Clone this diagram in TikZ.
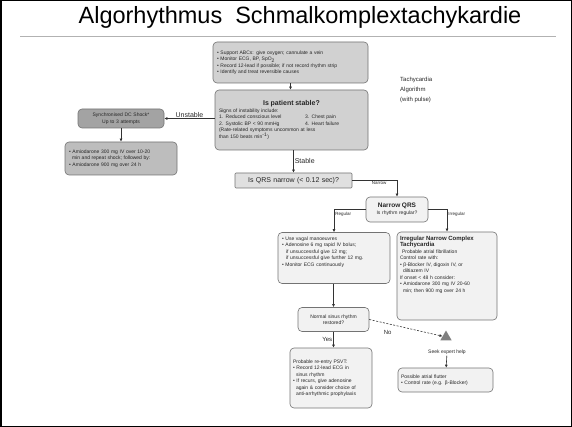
\documentclass[tikz,border=0pt]{standalone}
\usepackage{fontspec}
\setmainfont{Liberation Sans}
\usetikzlibrary{arrows.meta}
\usetikzlibrary{shapes.geometric}
\usetikzlibrary{positioning}
\definecolor{boxdark}{gray}{0.64}
\definecolor{boxmid}{gray}{0.74}
\definecolor{boxgrey}{gray}{0.82}
\definecolor{boxpale}{gray}{0.88}
\definecolor{boxlight}{gray}{0.95}
\definecolor{boxline}{gray}{0.45}

\begin{document}
\begin{tikzpicture}[x=1pt, y=-1pt,
	box/.style={draw=boxline, line width=0.6pt, rounded corners=4pt, inner sep=0pt, align=center, text=black!85, font=\fontsize{5}{6.5}\selectfont},
	lbl/.style={font=\fontsize{6}{7}\selectfont, inner sep=1pt, text=black!85},
	arr/.style={-{Latex[length=3pt,width=3pt]}, line width=0.6pt, black!80}]
				\useasboundingbox (0,0) rectangle (572,427);
				\draw[line width=1.5pt] (0.75,0.75) rectangle (571.25,426.25);
				\node[font=\fontsize{23.5}{26}\selectfont] (title) at (300,17) {Algorhythmus\ \ Schmalkomplextachykardie};
				\draw[gray!60, line width=0.8pt] (20,36) -- (556,36);
				
				\node[box, fill=boxgrey, minimum width=155, minimum height=41, text width=147, align=left] (support) at (290.5,62.5) {• Support ABCs: give oxygen; cannulate a vein\\ • Monitor ECG, BP, SpO\textsubscript{2}\\ • Record 12-lead if possible; if not record rhythm strip\\ • Identify and treat reversible causes};
				\node[font=\fontsize{6}{10}\selectfont, align=left, anchor=north west, inner sep=0pt, text=black!85] (tachy) at (400,77) {Tachycardia\\ Algorithm\\ (with pulse)};
				\node[box, fill=boxgrey, minimum width=153, minimum height=60, text width=145, align=left] (stable) at (291.5,120) {\makebox[145pt]{\fontsize{7}{9}\selectfont\bfseries Is patient stable?}\\ Signs of instability include:\\ \begin{tabular}{@{}p{86pt}@{}l@{}}1. Reduced conscious level & 3. Chest pain\\ 2. Systolic BP < 90 mmHg & 4. Heart failure\end{tabular}\\ (Rate-related symptoms uncommon at less\\ than 150 beats min\textsuperscript{-1})};
				
				\node[box, fill=boxdark, minimum width=86, minimum height=19, text width=82] (shock) at (121,118.5) {Synchronised DC Shock*\\ Up to 3 attempts};
				\node[box, fill=boxmid, minimum width=112, minimum height=33, text width=104, align=left] (amio) at (121,158.5) {• Amiodarone 300 mg IV over 10-20\\ \hspace*{3pt}min and repeat shock; followed by:\\ • Amiodarone 900 mg over 24 h};
				
				\node[box, fill=boxpale, rounded corners=1pt, minimum width=117, minimum height=15, text width=113, font=\fontsize{7}{8}\selectfont] (qrs) at (293.5,180.5) {Is QRS narrow (< 0.12 sec)?};
				\node[box, fill=boxlight, minimum width=62, minimum height=25, text width=60] (narrow) at (397,209.5) {{\fontsize{6.5}{8}\selectfont\bfseries Narrow QRS}\\ Is rhythm regular?};
				
				\node[box, fill=boxlight, minimum width=112, minimum height=51, text width=104, align=left] (vagal) at (334,258) {\parbox[c][43pt][t]{104pt}{\raggedright • Use vagal manoeuvres\\ • Adenosine 6 mg rapid IV bolus;\\ \hspace*{4pt}if unsuccessful give 12 mg;\\ \hspace*{4pt}if unsuccessful give further 12 mg.\\ • Monitor ECG continuously}};
				\node[box, fill=boxlight, minimum width=100, minimum height=88, text width=94] (irreg) at (447,276) {\parbox[c][80pt][t]{94pt}{\raggedright{\fontsize{6}{7}\selectfont\bfseries Irregular Narrow Complex\\ Tachycardia}\\ \hspace*{2pt}Probable atrial fibrillation\\ Control rate with:\\ • β-Blocker IV, digoxin IV, or\\ \hspace*{3pt}diltiazem IV\\ If onset < 48 h consider:\\ • Amiodarone 300 mg IV 20-60\\ \hspace*{3pt}min; then 900 mg over 24 h}};
				
				\node[box, fill=boxlight, minimum width=71, minimum height=24, text width=66] (nsr) at (333.5,319.5) {Normal sinus rhythm\\ restored?};
				\node[box, fill=boxlight, minimum width=82, minimum height=60, text width=76, align=left] (psvt) at (331,378) {Probable re-entry PSVT:\\ • Record 12-lead ECG in\\ \hspace*{3pt}sinus rhythm\\ • If recurs, give adenosine\\ \hspace*{3pt}again \& consider choice of\\ \hspace*{3pt}anti-arrhythmic prophylaxis};
				
				\node[regular polygon, regular polygon sides=3, fill=gray, minimum size=13pt, inner sep=0pt] (warn) at (446,337) {};
				\node[lbl, font=\fontsize{5}{6}\selectfont] (seek) at (447,352) {Seek expert help};
				\node[box, fill=boxlight, minimum width=95, minimum height=24, text width=89, align=left] (flutter) at (445.5,380) {Possible atrial flutter\\ • Control rate (e.g. β-Blocker)};
				
				\draw[arr] (support.south) -- (support.south |- stable.north);
				\draw[arr] (stable.west |- shock.east) -- (shock.east) node[midway, above, lbl, font=\fontsize{7}{8}\selectfont] {Unstable};
				\draw[arr] (shock) -- (amio);
				\draw[arr] (qrs.north |- stable.south) -- (qrs.north) node[midway, right, lbl, font=\fontsize{7}{8}\selectfont] {Stable};
				\draw[arr] (qrs.east) -| (narrow.north) node[pos=0.3, below, lbl, font=\fontsize{4.5}{5}\selectfont] {Narrow};
				\draw[arr] (narrow.west) -| (vagal.north) node[pos=0.6, right, lbl, font=\fontsize{4.5}{5}\selectfont] {Regular};
				\draw[arr] (narrow.east) -| (irreg.north) node[pos=0.6, right, lbl, font=\fontsize{4.5}{5}\selectfont] {Irregular};
				\draw[arr] (vagal.south -| nsr) -- (nsr);
				\draw[arr] (nsr.south) -- (nsr.south |- psvt.north) node[midway, left, lbl] {Yes};
				\draw[arr, dash pattern=on 2pt off 1.5pt] (nsr.east) -- (warn) node[pos=0.25, below=5pt, lbl] {No};
				\draw[arr] (seek) -- (flutter);
\end{tikzpicture}
\end{document}
